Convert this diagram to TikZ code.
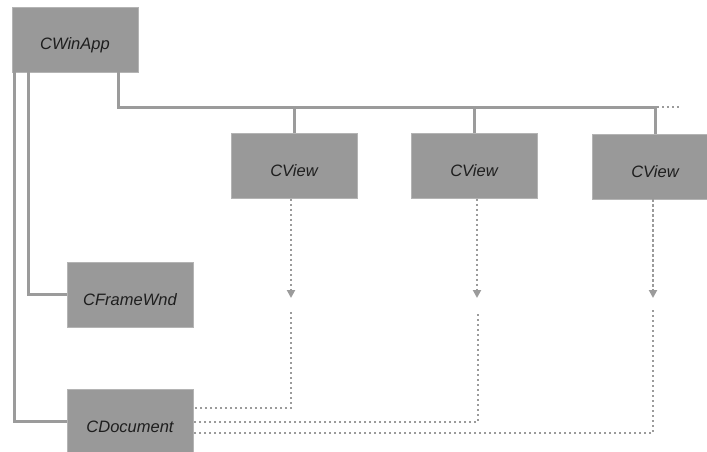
\documentclass[tikz,border=0pt]{standalone}
\usepackage{fontspec}
\setmainfont{Liberation Sans}
\usetikzlibrary{arrows.meta}
\definecolor{boxgray}{HTML}{999999}
\definecolor{edgegray}{HTML}{B4B4B4}
\definecolor{linegray}{HTML}{9B9B9B}
\definecolor{ink}{HTML}{1E1E1E}
\begin{document}
\begin{tikzpicture}[x=1pt,y=-1pt,
  classbox/.style={rectangle, fill=boxgray, draw=edgegray, line width=0.8pt,
    minimum width=126pt, minimum height=65pt, inner sep=0pt,
    text height=21pt, text depth=0pt,
    font=\itshape\fontsize{16.5}{19}\selectfont, text=ink},
  link/.style={draw=linegray, line width=3pt},
  dotline/.style={draw=linegray, line width=2.6pt, dash pattern=on 2.4pt off 2.6pt},
  dotarrow/.style={dotline, -{Triangle[width=8pt,length=8pt]}}]
\clip (0,0) rectangle (707,452);
\fill[white] (0,0) rectangle (707,452);

% classes
\node[classbox] (app)   at (75,39.5)   {CWinApp};
\node[classbox] (view1) at (294,166)   {CView};
\node[classbox] (view2) at (474,166)   {CView};
\node[classbox] (view3) at (655,166.5) {CView};
\node[classbox] (frame) at (130,294.5) {CFrameWnd};
\node[classbox] (doc)   at (130,421.5) {CDocument};

% view bus
\coordinate (busend)  at (657,107);
\coordinate (busdots) at (681,107);
\draw[link] ([xshift=-20pt]app.south east) |- (busend);
\draw[dotline] (busend) -- (busdots);
\draw[link] (view1.north |- busend) -- (view1.north);
\draw[link] (view2.north |- busend) -- (view2.north);
\draw[link] (view3.north |- busend) -- (view3.north);

% application owns the frame and the document
\draw[link] ([xshift=17pt]app.south west) |- (frame.west);
\draw[link] ([xshift=3pt]app.south west) |- (doc.west);

% views refer to the document
\coordinate (tip1) at (291,298);
\coordinate (tip2) at (477,298);
\coordinate (tip3) at (653,298);
\coordinate (low1) at (291,312);
\coordinate (low2) at (478,314);
\coordinate (low3) at (653,310);
\draw[dotarrow] (view1.south -| tip1) -- (tip1);
\draw[dotarrow] (view2.south -| tip2) -- (tip2);
\draw[dotarrow] (view3.south -| tip3) -- (tip3);
\draw[dotline] (low1) |- ([yshift=13.5pt]doc.east);
\draw[dotline] (low2) |- ([yshift=-0.5pt]doc.east);
\draw[dotline] (low3) |- ([yshift=-11.5pt]doc.east);
\end{tikzpicture}
\end{document}
